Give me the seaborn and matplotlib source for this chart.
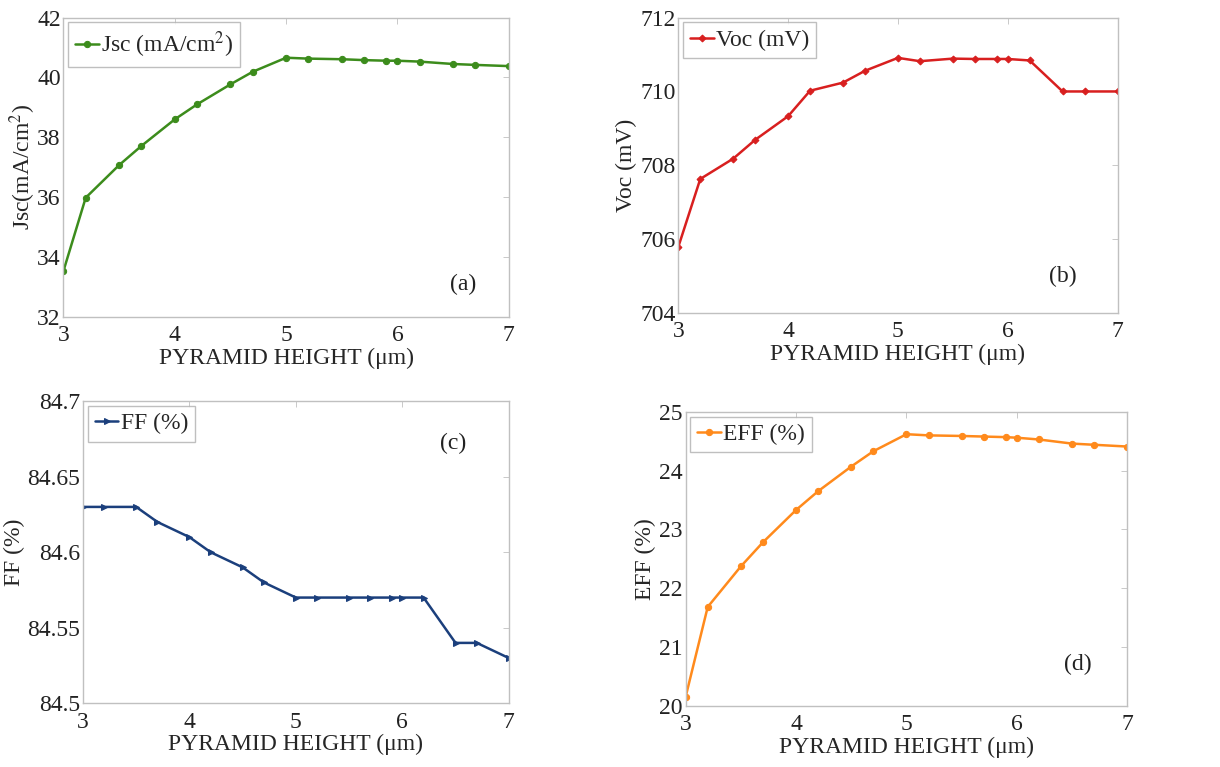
import numpy as np
import pandas as pd
import matplotlib
matplotlib.use("Agg")
import matplotlib.pyplot as plt
import seaborn as sns

# pyramid heights (um)
heights = [3, 3.2, 3.5, 3.7, 4, 4.2, 4.5, 4.7, 5, 5.2, 5.5, 5.7, 5.9, 6, 6.2, 6.5, 6.7, 7]

jsc = [33.53, 35.98, 37.07, 37.71, 38.60, 39.10, 39.77, 40.19, 40.66, 40.63,
       40.61, 40.58, 40.56, 40.56, 40.53, 40.45, 40.42, 40.38]
voc = [705.79, 707.63, 708.18, 708.69, 709.33, 710.02, 710.24, 710.56, 710.91, 710.82,
       710.89, 710.88, 710.88, 710.88, 710.84, 710.0, 710.0, 710.0]
ff = [84.63, 84.63, 84.63, 84.62, 84.61, 84.60, 84.59, 84.58, 84.57, 84.57,
      84.57, 84.57, 84.57, 84.57, 84.57, 84.54, 84.54, 84.53]
eff = [20.15, 21.68, 22.37, 22.78, 23.33, 23.65, 24.07, 24.33, 24.62, 24.60,
       24.59, 24.58, 24.57, 24.56, 24.53, 24.46, 24.44, 24.41]

sns.set_theme(style="white")
plt.rcParams["font.family"] = ["Liberation Serif", "DejaVu Serif"]
plt.rcParams["mathtext.fontset"] = "stix"

df = pd.DataFrame({"h": heights, "jsc": jsc, "voc": voc, "ff": ff, "eff": eff})

FS = 17

panels = [
    # col, color, marker, legend label, y label, ylim, yticks, tick labels, tag, tag pos, ylabel x, axes rect
    ("jsc", "#3c8c1c", "o", r"Jsc (mA/cm$^2$)", r"Jsc(mA/cm$^2$)", (32, 42),
     [32, 34, 36, 38, 40, 42], None, "(a)", (0.897, 0.107), -0.058,
     [0.052, 0.587, 0.365, 0.390]),
    ("voc", "#d81f1f", "D", "Voc (mV)", "Voc (mV)", (704, 712),
     [704, 706, 708, 710, 712], None, "(b)", (0.875, 0.122), -0.093,
     [0.556, 0.592, 0.360, 0.385]),
    ("ff", "#1b3f7c", ">", "FF (%)", "FF (%)", (84.5, 84.7),
     [84.5, 84.55, 84.6, 84.65, 84.7], ["84.5", "84.55", "84.6", "84.65", "84.7"],
     "(c)", (0.869, 0.861), -0.136, [0.068, 0.083, 0.349, 0.394]),
    ("eff", "#ff8a1c", "o", "EFF (%)", "EFF (%)", (20, 25),
     [20, 21, 22, 23, 24, 25], None, "(d)", (0.889, 0.139), -0.066,
     [0.562, 0.080, 0.362, 0.383]),
]

fig = plt.figure(figsize=(12.2, 7.67), dpi=100)

for col, color, marker, lab, ylab, ylim, yticks, ylabels, tag, tpos, ylx, rect in panels:
    ax = fig.add_axes(rect)
    sns.lineplot(data=df, x="h", y=col, ax=ax, color=color, marker=marker,
                 markersize=4.5 if marker != "D" else 3.5, markeredgecolor=color,
                 linewidth=1.8, label=lab)
    ax.set_xlim(3, 7)
    ax.set_ylim(*ylim)
    ax.set_xticks([3, 4, 5, 6, 7])
    ax.set_yticks(yticks)
    if ylabels:
        ax.set_yticklabels(ylabels)
    ax.set_xlabel("PYRAMID HEIGHT (\u03bcm)", fontsize=FS, labelpad=1)
    ax.set_ylabel(ylab, fontsize=FS)
    ax.yaxis.set_label_coords(ylx, 0.5)
    ax.tick_params(direction="in", length=4, width=0.6, colors="#c0c0c0",
                   labelcolor="#222222", labelsize=FS, top=True, right=True)
    ax.tick_params(axis="x", pad=6)
    ax.tick_params(axis="y", pad=2)
    for s in ax.spines.values():
        s.set_color("#c0c0c0")
        s.set_linewidth(1.0)
    ax.text(tpos[0], tpos[1], tag, transform=ax.transAxes, fontsize=FS,
            ha="center", va="center", color="#222222")
    leg = ax.legend(loc="upper left", fontsize=FS, frameon=True, fancybox=False,
                    borderpad=0.3, handlelength=1.0, handletextpad=0.1,
                    borderaxespad=0.2, markerscale=1.0)
    leg.get_frame().set_edgecolor("#b0b0b0")
    leg.get_frame().set_linewidth(1.0)

fig.savefig("out.png", dpi=100)
